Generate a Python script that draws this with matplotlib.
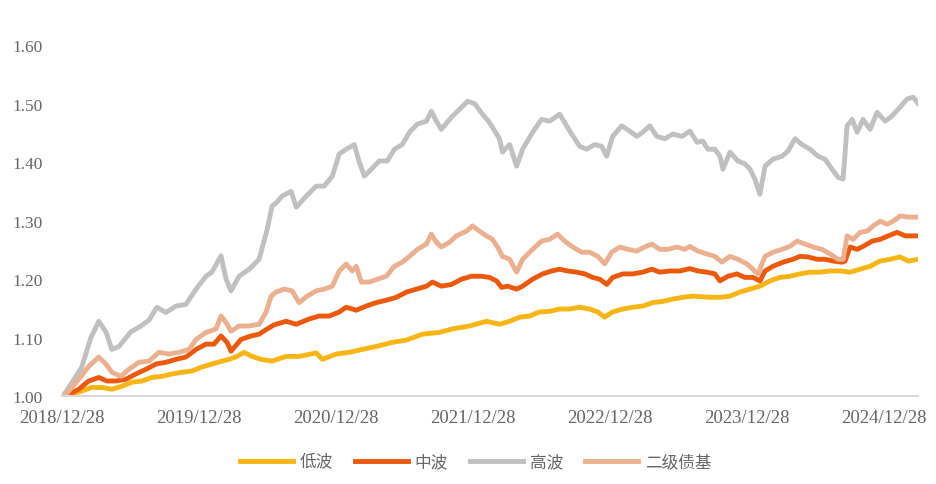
import numpy as np
import pandas as pd
import matplotlib
matplotlib.use("Agg")
import matplotlib.pyplot as plt

# time is in years counted from 2018/12/28
start = pd.Timestamp("2018-12-28")

labels = ["低波", "中波", "高波", "二级债基"]
colors = ["#F7B516", "#EB5A0C", "#C0C0C0", "#EAB08F"]

t_low = [0.000, 0.029, 0.146, 0.219, 0.292, 0.365, 0.439, 0.512, 0.585, 0.658, 0.731,
         0.804, 0.877, 0.950, 1.023, 1.096, 1.170, 1.221, 1.279, 1.330, 1.389, 1.455,
         1.535, 1.637, 1.732, 1.857, 1.901, 2.003, 2.098, 2.193, 2.295, 2.412, 2.515,
         2.632, 2.756, 2.851, 2.975, 3.099, 3.194, 3.268, 3.341, 3.414, 3.487, 3.560,
         3.633, 3.706, 3.779, 3.852, 3.911, 3.962, 4.020, 4.094, 4.167, 4.240, 4.313,
         4.386, 4.459, 4.532, 4.605, 4.730, 4.803, 4.876, 4.949, 5.022, 5.095, 5.168,
         5.241, 5.314, 5.387, 5.461, 5.534, 5.607, 5.680, 5.753, 5.826, 5.899, 5.972,
         6.045, 6.118, 6.177, 6.250]
v_low = [1.000, 1.000, 1.009, 1.015, 1.015, 1.012, 1.017, 1.024, 1.026, 1.032, 1.034,
         1.038, 1.041, 1.043, 1.050, 1.055, 1.060, 1.063, 1.068, 1.075, 1.068, 1.063,
         1.060, 1.068, 1.068, 1.074, 1.063, 1.072, 1.075, 1.080, 1.085, 1.092, 1.096,
         1.106, 1.109, 1.115, 1.120, 1.128, 1.123, 1.128, 1.135, 1.137, 1.144, 1.145,
         1.149, 1.149, 1.152, 1.149, 1.144, 1.135, 1.144, 1.149, 1.152, 1.154, 1.160,
         1.162, 1.166, 1.169, 1.171, 1.169, 1.169, 1.171, 1.178, 1.183, 1.188, 1.197,
         1.203, 1.205, 1.209, 1.212, 1.212, 1.214, 1.214, 1.212, 1.217, 1.222, 1.231,
         1.234, 1.238, 1.231, 1.234]

t_mid = [0.000, 0.029, 0.124, 0.197, 0.270, 0.329, 0.395, 0.468, 0.541, 0.614, 0.687,
         0.760, 0.833, 0.906, 0.980, 1.053, 1.111, 1.162, 1.206, 1.235, 1.308, 1.382,
         1.440, 1.499, 1.550, 1.637, 1.711, 1.806, 1.879, 1.952, 2.025, 2.076, 2.149,
         2.222, 2.295, 2.368, 2.442, 2.515, 2.588, 2.661, 2.705, 2.770, 2.844, 2.917,
         2.990, 3.063, 3.121, 3.173, 3.209, 3.253, 3.319, 3.363, 3.436, 3.509, 3.575,
         3.633, 3.692, 3.757, 3.816, 3.874, 3.925, 3.977, 4.020, 4.094, 4.167, 4.240,
         4.306, 4.364, 4.437, 4.510, 4.584, 4.642, 4.708, 4.766, 4.803, 4.861, 4.927,
         4.985, 5.044, 5.095, 5.132, 5.190, 5.263, 5.336, 5.387, 5.446, 5.512, 5.570,
         5.629, 5.694, 5.716, 5.753, 5.804, 5.848, 5.914, 5.972, 6.031, 6.096, 6.155,
         6.250]
v_mid = [1.000, 1.000, 1.012, 1.026, 1.032, 1.026, 1.026, 1.029, 1.038, 1.046, 1.055,
         1.058, 1.063, 1.067, 1.080, 1.089, 1.089, 1.103, 1.092, 1.077, 1.097, 1.103,
         1.106, 1.115, 1.122, 1.128, 1.123, 1.132, 1.137, 1.137, 1.144, 1.152, 1.147,
         1.154, 1.160, 1.164, 1.169, 1.178, 1.183, 1.188, 1.195, 1.188, 1.191, 1.200,
         1.205, 1.205, 1.203, 1.197, 1.186, 1.188, 1.183, 1.188, 1.200, 1.209, 1.214,
         1.217, 1.214, 1.212, 1.209, 1.203, 1.200, 1.191, 1.203, 1.209, 1.209, 1.212,
         1.217, 1.212, 1.214, 1.214, 1.218, 1.214, 1.212, 1.209, 1.197, 1.205, 1.209,
         1.203, 1.203, 1.197, 1.214, 1.222, 1.229, 1.234, 1.239, 1.238, 1.234, 1.234,
         1.231, 1.229, 1.231, 1.255, 1.251, 1.256, 1.265, 1.268, 1.274, 1.280, 1.274,
         1.274]

t_high = [0.000, 0.029, 0.146, 0.212, 0.270, 0.322, 0.365, 0.417, 0.504, 0.577, 0.636,
          0.694, 0.760, 0.833, 0.906, 0.980, 1.053, 1.096, 1.162, 1.199, 1.235, 1.294,
          1.367, 1.440, 1.499, 1.535, 1.564, 1.608, 1.674, 1.711, 1.784, 1.857, 1.915,
          1.974, 2.025, 2.076, 2.135, 2.171, 2.208, 2.259, 2.317, 2.376, 2.427, 2.485,
          2.537, 2.595, 2.661, 2.697, 2.734, 2.770, 2.844, 2.902, 2.961, 3.012, 3.070,
          3.121, 3.194, 3.216, 3.268, 3.319, 3.363, 3.436, 3.501, 3.560, 3.633, 3.684,
          3.743, 3.779, 3.830, 3.889, 3.940, 3.977, 4.020, 4.086, 4.145, 4.196, 4.240,
          4.291, 4.342, 4.401, 4.459, 4.525, 4.584, 4.635, 4.678, 4.715, 4.766, 4.803,
          4.825, 4.876, 4.934, 4.985, 5.022, 5.058, 5.095, 5.132, 5.190, 5.256, 5.300,
          5.351, 5.402, 5.461, 5.519, 5.570, 5.621, 5.665, 5.702, 5.731, 5.768, 5.804,
          5.848, 5.899, 5.950, 6.009, 6.060, 6.118, 6.170, 6.213, 6.250]
v_high = [1.000, 1.007, 1.050, 1.100, 1.128, 1.110, 1.080, 1.085, 1.110, 1.120, 1.130,
          1.152, 1.143, 1.154, 1.157, 1.183, 1.205, 1.212, 1.240, 1.200, 1.180, 1.205,
          1.217, 1.234, 1.285, 1.325, 1.330, 1.342, 1.350, 1.323, 1.342, 1.359, 1.359,
          1.376, 1.414, 1.422, 1.430, 1.400, 1.376, 1.388, 1.402, 1.402, 1.422, 1.430,
          1.451, 1.465, 1.470, 1.487, 1.470, 1.456, 1.477, 1.490, 1.504, 1.500, 1.482,
          1.468, 1.440, 1.417, 1.430, 1.393, 1.422, 1.451, 1.473, 1.470, 1.482, 1.462,
          1.440, 1.427, 1.422, 1.430, 1.427, 1.410, 1.444, 1.462, 1.453, 1.444, 1.451,
          1.462, 1.444, 1.440, 1.448, 1.444, 1.453, 1.434, 1.436, 1.422, 1.422, 1.410,
          1.388, 1.417, 1.402, 1.397, 1.388, 1.371, 1.345, 1.393, 1.405, 1.410, 1.419,
          1.440, 1.430, 1.422, 1.410, 1.405, 1.388, 1.374, 1.371, 1.462, 1.473, 1.451,
          1.473, 1.456, 1.485, 1.470, 1.479, 1.494, 1.508, 1.511, 1.500]

t_bond = [0.000, 0.029, 0.124, 0.197, 0.270, 0.322, 0.365, 0.431, 0.490, 0.563, 0.636,
          0.709, 0.782, 0.855, 0.928, 0.980, 1.053, 1.126, 1.162, 1.199, 1.235, 1.294,
          1.367, 1.440, 1.491, 1.528, 1.564, 1.623, 1.681, 1.732, 1.791, 1.857, 1.915,
          1.974, 2.025, 2.076, 2.120, 2.149, 2.186, 2.244, 2.303, 2.368, 2.427, 2.485,
          2.537, 2.595, 2.661, 2.697, 2.734, 2.770, 2.829, 2.880, 2.953, 2.997, 3.048,
          3.099, 3.143, 3.180, 3.216, 3.268, 3.319, 3.363, 3.436, 3.501, 3.560, 3.618,
          3.670, 3.728, 3.794, 3.852, 3.911, 3.962, 4.013, 4.072, 4.130, 4.196, 4.254,
          4.306, 4.364, 4.423, 4.488, 4.547, 4.584, 4.642, 4.708, 4.766, 4.817, 4.876,
          4.934, 5.000, 5.044, 5.080, 5.132, 5.190, 5.256, 5.314, 5.365, 5.424, 5.482,
          5.548, 5.607, 5.665, 5.702, 5.731, 5.775, 5.826, 5.877, 5.921, 5.972, 6.023,
          6.067, 6.118, 6.177, 6.250]
v_bond = [1.000, 1.003, 1.029, 1.051, 1.067, 1.055, 1.041, 1.034, 1.046, 1.058, 1.060,
          1.075, 1.072, 1.075, 1.080, 1.097, 1.109, 1.115, 1.137, 1.126, 1.111, 1.120,
          1.120, 1.123, 1.144, 1.171, 1.178, 1.183, 1.180, 1.160, 1.171, 1.180, 1.183,
          1.188, 1.214, 1.226, 1.214, 1.222, 1.195, 1.195, 1.200, 1.205, 1.222, 1.229,
          1.239, 1.251, 1.260, 1.277, 1.263, 1.255, 1.263, 1.274, 1.282, 1.291, 1.282,
          1.274, 1.268, 1.255, 1.239, 1.234, 1.212, 1.234, 1.251, 1.265, 1.268, 1.277,
          1.265, 1.255, 1.246, 1.246, 1.239, 1.226, 1.246, 1.255, 1.251, 1.248, 1.255,
          1.260, 1.251, 1.251, 1.255, 1.251, 1.256, 1.248, 1.243, 1.239, 1.229, 1.239,
          1.234, 1.226, 1.217, 1.209, 1.239, 1.246, 1.251, 1.256, 1.265, 1.260, 1.255,
          1.251, 1.243, 1.234, 1.234, 1.274, 1.268, 1.280, 1.282, 1.291, 1.299, 1.294,
          1.299, 1.308, 1.306, 1.306]

yticks = [1.00, 1.10, 1.20, 1.30, 1.40, 1.50, 1.60]


def to_dates(t):
    return start + pd.to_timedelta(np.array(t) * 365.25, unit="D")


plt.rcParams['font.family'] = ['Liberation Serif', 'Noto Sans CJK SC']

fig = plt.figure(figsize=(9.36, 4.85), dpi=100)
ax = fig.add_axes([0.066, 0.181, 0.915, 0.724])

series = [(t_low, v_low), (t_mid, v_mid), (t_high, v_high), (t_bond, v_bond)]
for (t, v), lab, c in zip(series, labels, colors):
    ax.plot(to_dates(t), v, color=c, lw=3.5, label=lab, solid_joinstyle='round')

ax.set_ylim(1.0, 1.6)
ax.set_yticks(yticks)
ax.set_yticklabels([f"{y:.2f}" for y in yticks])
xt = [start + pd.DateOffset(years=k) for k in range(7)]
ax.set_xticks(xt)
ax.set_xticklabels([d.strftime("%Y/%m/%d") for d in xt])
ax.set_xlim(to_dates([0.0])[0], to_dates([6.25])[0])

for s in ['top', 'right', 'left']:
    ax.spines[s].set_visible(False)
ax.spines['bottom'].set_color('#D9D9D9')
ax.spines['bottom'].set_linewidth(1.5)
ax.tick_params(axis='both', length=0, colors='#666666')
ax.tick_params(axis='y', pad=14, labelsize=12.5)
ax.tick_params(axis='x', pad=9, labelsize=13.5)

leg = fig.legend(loc='center', bbox_to_anchor=(0.508, 0.045), ncol=4, frameon=False,
                 handlelength=3.2, handletextpad=0.4, columnspacing=1.3,
                 prop={'family': 'Noto Sans CJK SC', 'size': 12})
for txt in leg.get_texts():
    txt.set_color('#666666')

fig.savefig("out.png", dpi=100)
